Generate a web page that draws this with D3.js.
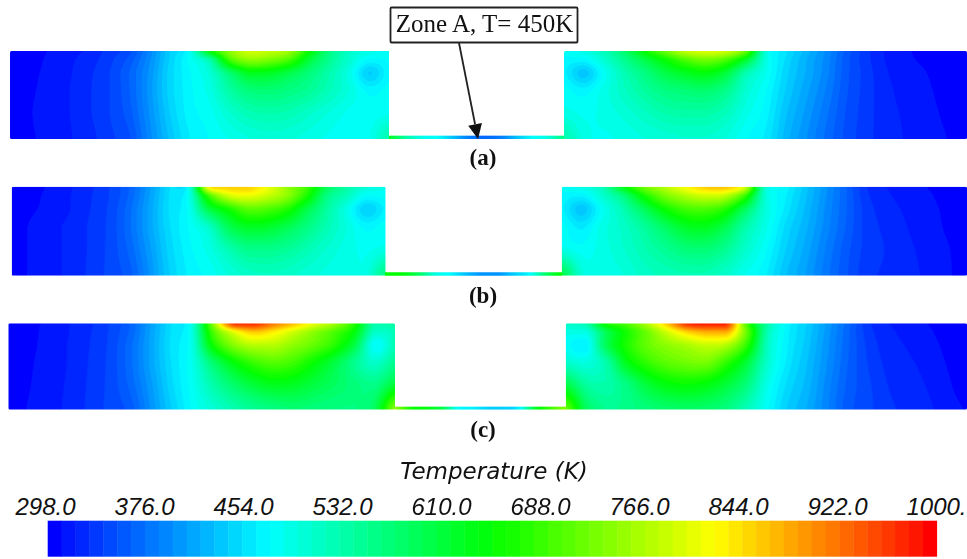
<!DOCTYPE html>
<html><head><meta charset="utf-8">
<script src="https://cdnjs.cloudflare.com/ajax/libs/d3/7.8.5/d3.min.js"></script>
<style>html,body{margin:0;padding:0;background:#fff}svg{display:block}</style>
</head><body><svg id="c" width="967" height="559"></svg>
<script>
// Temperature (K). Rows run top to bottom, columns left to right.
const rowFractions = [0, 0.1, 0.25, 0.45, 0.7, 1];
const panelALeft = [
 [298,304,310,316,323,336,350,390,440,480,640,745,790,780,755,650,560,510,490,480],
 [298,305,311,318,326,339,358,395,442,478,530,690,745,730,695,610,550,505,470,475],
 [298,306,312,319,329,342,365,400,445,472,500,570,630,625,600,565,530,490,440,470],
 [298,307,313,320,330,342,364,402,445,470,490,535,565,570,560,545,520,495,470,478],
 [298,308,314,320,330,342,360,398,440,468,480,505,525,530,525,510,495,482,478,482],
 [298,307,313,319,327,339,352,392,432,462,474,485,495,500,497,490,482,478,482,530]];
const panelARight = [
 [480,490,520,575,650,720,780,800,790,720,500,455,425,395,360,335,318,310,307,301,298],
 [470,468,505,550,600,650,700,725,700,620,495,450,420,392,358,335,319,311,307,302,298],
 [465,435,480,525,560,600,625,640,610,530,485,445,418,390,357,337,321,314,309,303,298],
 [478,468,490,515,540,560,570,575,555,505,475,440,412,385,355,337,323,316,311,304,298],
 [490,482,488,500,515,530,535,535,520,490,468,432,405,378,352,336,324,318,313,306,298],
 [530,490,483,488,495,500,505,505,495,475,460,425,398,372,350,335,325,319,314,309,300]];
const panelBLeft = [
 [298,305,311,319,329,343,365,405,450,485,830,860,860,815,750,690,590,535,500,485],
 [298,306,312,320,330,343,367,408,452,485,690,790,810,785,745,665,560,520,475,478],
 [298,307,313,320,331,345,372,412,453,480,600,660,710,700,670,600,540,490,442,465],
 [300,311,317,323,333,346,373,412,450,475,510,590,625,620,595,560,525,495,470,480],
 [300,311,317,323,333,346,368,405,445,470,490,525,555,555,545,525,505,490,482,490],
 [302,311,317,323,334,346,360,398,440,465,477,495,510,515,510,500,492,485,490,560]];
const panelBRight = [
 [478,490,520,630,720,770,820,860,870,800,510,470,435,400,365,332,320,315,309,303,298],
 [470,465,505,560,655,725,765,790,780,690,505,465,432,398,365,334,322,316,311,304,298],
 [465,435,480,525,585,650,690,700,675,590,500,460,428,395,365,337,325,318,313,306,299],
 [478,460,490,510,540,580,620,630,600,535,490,450,422,392,363,338,328,320,315,307,300],
 [490,478,490,505,525,545,565,570,550,510,478,442,415,385,358,338,330,322,317,310,301],
 [600,500,488,495,510,520,525,525,510,485,465,432,408,380,355,335,329,323,318,311,302]];
const panelCLeft = [
 [298,305,312,320,329,343,365,408,452,490,730,960,975,920,870,810,760,670,530,540],
 [298,305,313,320,330,344,367,410,453,490,690,800,860,835,790,745,700,640,510,520],
 [298,306,313,321,331,345,372,412,455,488,650,735,775,775,745,715,675,600,475,525],
 [298,307,314,321,332,346,372,412,452,485,570,640,685,705,690,650,605,550,510,550],
 [298,308,315,322,333,346,368,405,448,480,530,575,610,630,625,605,585,565,555,610],
 [300,310,316,323,334,346,358,398,440,474,500,525,545,560,570,565,560,560,590,745]];
const panelCRight = [
 [510,530,660,700,770,860,970,985,975,700,540,470,440,405,370,335,321,315,309,303,298],
 [490,490,590,660,720,790,850,880,880,720,530,468,438,403,368,337,323,317,311,304,298],
 [480,465,590,665,715,745,765,785,770,680,520,465,435,400,367,340,325,319,313,306,298],
 [510,495,530,630,680,710,725,730,680,610,510,460,430,397,365,342,328,322,316,308,299],
 [600,540,530,560,610,640,650,640,610,565,490,450,425,392,362,345,331,325,319,311,301],
 [720,590,550,555,565,575,580,575,560,520,478,440,418,388,358,346,334,328,322,315,308]];
// Thin strip under each gap (Zone A), left to right.
const stripA = [620,540,490,472,430,385,370,385,430,472,500,560];
const stripB = [650,645,590,500,470,430,400,400,440,475,580,650];
const stripC = [740,660,640,600,480,465,440,440,470,620,690,740];
const panelLabels = ["(a)", "(b)", "(c)"];
const tickValues = [298,376,454,532,610,688,766,844,922,1000];
const tickLabels = ["298.0","376.0","454.0","532.0","610.0","688.0","766.0","844.0","922.0","1000."];
const rampStops = [298,473.5,649,824.5,1000];
const rampColors = ["#0000ff","#00ffff","#00ff00","#ffff00","#ff0000"];
const bandCount = 64;

const svg = d3.select("#c");
const defs = svg.append("defs");
defs.append("filter").attr("id","soft").attr("x","-2%").attr("y","-5%").attr("width","104%").attr("height","110%")
  .append("feGaussianBlur").attr("stdDeviation",0.7);

const ramp = d3.scaleLinear().domain(rampStops).range(rampColors).interpolate(d3.interpolateRgb).clamp(true);
const bandMid = d3.scaleLinear().domain([0,bandCount]).range([298,1000]);
const bandColor = i => i===0 ? rampColors[0] : i===bandCount-1 ? rampColors[4] : ramp(bandMid(i+0.5));
const thresholdOf = bandMid;

function cr(p, t){ // Catmull-Rom through a list, clamped to the two neighbours
  const n=p.length-1, i=Math.max(0,Math.min(n-1,Math.floor(t))), f=t-i;
  const a=p[Math.max(0,i-1)], b=p[i], c=p[i+1], d=p[Math.min(n,i+2)];
  const v=0.5*((2*b)+(-a+c)*f+(2*a-5*b+4*c-d)*f*f+(-a+3*b-3*c+d)*f*f*f);
  return Math.max(Math.min(b,c),Math.min(Math.max(b,c),v));
}

const panels = [
 {id:"a",top:51,bottom:139,stripTop:135.7,left:{x0:10,x1:389,g:panelALeft},right:{x0:564,x1:967,g:panelARight},strip:stripA},
 {id:"b",top:186.7,bottom:275.7,stripTop:272.3,left:{x0:11.7,x1:385.7,g:panelBLeft},right:{x0:561.7,x1:967,g:panelBRight},strip:stripB},
 {id:"c",top:323.3,bottom:409.5,stripTop:406.7,left:{x0:8.3,x1:395,g:panelCLeft},right:{x0:565.7,x1:967,g:panelCRight},strip:stripC}
];
const contourPath = d3.geoPath();
const heat = svg.append("g").attr("filter","url(#soft)");

function drawHalf(p,h,key){
  const w=Math.ceil(h.x1-h.x0), ht=Math.ceil(p.bottom-p.top);
  const nc=h.g[0].length;
  const colIdx=d3.scaleLinear().domain([0,w]).range([0,nc-1]);
  const rowIdx=d3.scaleLinear().domain(rowFractions.map(f=>f*ht)).range(d3.range(rowFractions.length));
  const vals=new Float64Array(w*ht);
  for(let j=0;j<ht;j++){
    const rt=rowIdx(j+0.5);
    for(let i=0;i<w;i++){
      const ct=colIdx(i+0.5);
      vals[j*w+i]=cr(h.g.map(r=>cr(r,ct)),rt);
    }
  }
  const cid="clip-"+p.id+key;
  defs.append("clipPath").attr("id",cid).append("rect")
    .attr("x",0).attr("y",0).attr("width",h.x1-h.x0).attr("height",p.bottom-p.top).attr("rx",1.5);
  const g=heat.append("g").attr("transform",`translate(${h.x0},${p.top})`).attr("clip-path",`url(#${cid})`);
  g.append("rect").attr("width",w).attr("height",ht).attr("fill",bandColor(0));
  const th=d3.range(1,bandCount).map(thresholdOf);
  const cs=d3.contours().size([w,ht]).thresholds(th)(Array.from(vals));
  g.selectAll("path").data(cs).join("path")
    .attr("d",contourPath).attr("fill",(d,i)=>bandColor(i+1));
}
panels.forEach(p=>{
  drawHalf(p,p.left,"L"); drawHalf(p,p.right,"R");
  const x0=p.left.x1, x1=p.right.x0, n=p.strip.length;
  const idx=d3.scaleLinear().domain([x0,x1]).range([0,n-1]);
  heat.append("g").selectAll("rect").data(d3.range(Math.floor(x0),Math.ceil(x1))).join("rect")
    .attr("x",d=>d).attr("y",p.stripTop).attr("width",1.2).attr("height",p.bottom-p.stripTop)
    .attr("fill",d=>ramp(cr(p.strip,Math.max(0,Math.min(n-1,idx(d))))));
});

// Panel letters
const labelY=[165,303,437];
svg.append("g").selectAll("text").data(panelLabels).join("text")
  .attr("x",483).attr("y",(d,i)=>labelY[i]).attr("text-anchor","middle")
  .attr("font-family","Liberation Serif").attr("font-weight","bold").attr("font-size",23).attr("fill","#111").text(d=>d);

// Zone A call-out
svg.append("rect").attr("x",390.5).attr("y",7.5).attr("width",187).attr("height",35)
  .attr("fill","#fff").attr("stroke","#222").attr("stroke-width",1.8).attr("rx",1);
svg.append("text").attr("x",484.5).attr("y",32).attr("text-anchor","middle")
  .attr("font-family","Liberation Serif").attr("font-size",25).attr("fill","#111").text("Zone A, T= 450K");
const ax=459,ay=43,bx=478,by=139;
const ang=Math.atan2(by-ay,bx-ax), L=15, W=7;
svg.append("line").attr("x1",ax).attr("y1",ay).attr("x2",bx-L*Math.cos(ang)).attr("y2",by-L*Math.sin(ang))
  .attr("stroke","#222").attr("stroke-width",1.8);
const bp=[bx-L*Math.cos(ang),by-L*Math.sin(ang)];
svg.append("path").attr("fill","#111").attr("d",d3.line()([
  [bx,by],
  [bp[0]-W*Math.sin(ang),bp[1]+W*Math.cos(ang)],
  [bp[0]+W*Math.sin(ang),bp[1]-W*Math.cos(ang)]])+"Z");

// Colour bar
const barX=d3.scaleBand().domain(d3.range(bandCount)).range([47.7,936.7]);
svg.append("g").attr("filter","url(#soft)").selectAll("rect").data(d3.range(bandCount)).join("rect")
  .attr("x",d=>barX(d)).attr("y",520.7).attr("width",barX.bandwidth()+0.4).attr("height",36)
  .attr("fill",d=>bandColor(d));

svg.append("text").attr("x",494).attr("y",479).attr("text-anchor","middle")
  .attr("font-family","DejaVu Sans").attr("font-style","italic").attr("font-size",23).attr("fill","#111")
  .text("Temperature (K)");
const tickX=d3.scaleLinear().domain([298,1000]).range([45,936]);
const axis=d3.axisTop(tickX).tickValues(tickValues).tickSize(0).tickPadding(0)
  .tickFormat((d,i)=>tickLabels[i]);
const ag=svg.append("g").attr("transform","translate(0,515)").call(axis);
ag.select(".domain").remove();
ag.selectAll("text").attr("font-family","Liberation Sans").attr("font-style","italic")
  .attr("font-size",24).attr("fill","#111").attr("dy",0);
</script></body></html>
